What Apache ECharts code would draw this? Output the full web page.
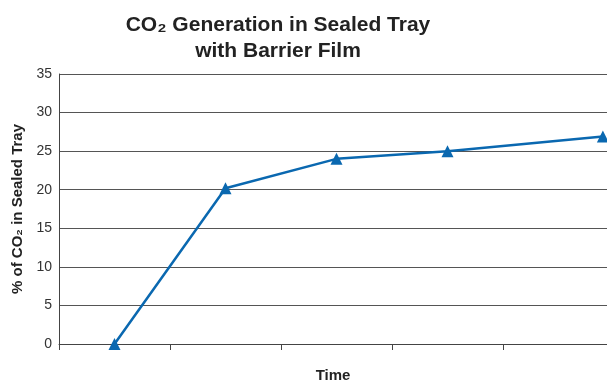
<!DOCTYPE html>
<html>
<head>
<meta charset="utf-8">
<script src="https://cdn.jsdelivr.net/npm/echarts@6/dist/echarts.min.js"></script>
<style>html,body{margin:0;padding:0;background:#fff}#c{width:607px;height:381px}</style>
</head>
<body>
<div id="c"></div>
<script>
const titleText = 'CO₂ Generation in Sealed Tray\nwith Barrier Film';
const xName = 'Time';
const yName = '% of CO₂ in Sealed Tray';
const timePositions = [0.5, 1.5, 2.5, 3.5, 4.9];
const co2Values = [0, 20.2, 24, 25, 26.9];
const yMin = 0, yMax = 35, yStep = 5;

const chart = echarts.init(document.getElementById('c'), null, {renderer: 'canvas'});
chart.setOption({
  animation: false,
  backgroundColor: '#fff',
  title: {
    text: titleText,
    left: 273, textAlign: 'center', top: 7,
    textStyle: {fontFamily: 'Liberation Sans', fontWeight: 'bold', fontSize: 21, lineHeight: 26, color: '#222'}
  },
  grid: {left: 59, right: 0, top: 74, bottom: 37, outerBoundsMode: 'none', containLabel: false},
  xAxis: {
    type: 'value', min: 0, max: 4.937, interval: 1,
    name: xName, nameLocation: 'middle', nameGap: 24,
    nameTextStyle: {fontFamily: 'Liberation Sans', fontWeight: 'bold', fontSize: 15, color: '#222'},
    axisLine: {show: true, lineStyle: {color: '#444', width: 1}},
    axisTick: {show: true, length: 6, lineStyle: {color: '#444'}},
    axisLabel: {show: false},
    splitLine: {show: false}
  },
  yAxis: {
    type: 'value', min: yMin, max: yMax, interval: yStep,
    name: yName, nameLocation: 'middle', nameGap: 34, nameRotate: 90,
    nameTextStyle: {fontFamily: 'Liberation Sans', fontWeight: 'bold', fontSize: 15, color: '#222'},
    axisLine: {show: true, lineStyle: {color: '#444', width: 1}},
    axisTick: {show: false},
    axisLabel: {fontFamily: 'Liberation Sans', fontSize: 14, color: '#333', margin: 7},
    splitLine: {show: true, lineStyle: {color: '#555', width: 1}}
  },
  series: [{
    type: 'line',
    data: timePositions.map((x, i) => [x, co2Values[i]]),
    symbol: 'triangle', symbolSize: 12,
    showAllSymbol: true,
    clip: false,
    lineStyle: {color: '#0a68b0', width: 2.5},
    itemStyle: {color: '#0a68b0'}
  }]
});
</script>
</body>
</html>
